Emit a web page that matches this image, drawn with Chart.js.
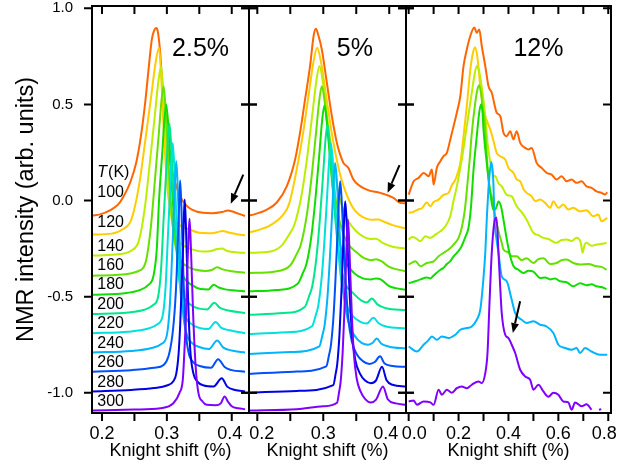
<!DOCTYPE html>
<html>
<head>
<meta charset="utf-8">
<script src="https://cdn.jsdelivr.net/npm/chart.js@4.4.0/dist/chart.umd.min.js"></script>
<style>
  body { margin: 0; background: #fff; }
  #wrap { position: relative; width: 641px; height: 468px; }
  #wrap canvas { position: absolute; left: 0; top: 0; }
</style>
</head>
<body>
<div id="wrap">
  <canvas id="c25" width="641" height="468"></canvas>
  <canvas id="c5" width="641" height="468"></canvas>
  <canvas id="c12" width="641" height="468"></canvas>
</div>
<script>
// ---- data: [Knight shift (%), offset NMR intensity] ----
const temps = [100, 120, 140, 160, 180, 200, 220, 240, 260, 280, 300];
const temps12 = [100, 120, 140, 160, 180, 240, 300];
const tempLabelY = [0.042, -0.117, -0.238, -0.339, -0.439, -0.542, -0.642, -0.745, -0.845, -0.946, -1.045];

const yTicks = [-1.0, -0.5, 0.0, 0.5, 1.0];
const x25Ticks = [0.2, 0.25, 0.3, 0.35, 0.4];
const x5Ticks = [0.2, 0.25, 0.3, 0.35, 0.4];
const x12Ticks = [0.0, 0.1, 0.2, 0.3, 0.4, 0.5, 0.6, 0.7, 0.8];
const x25Labels = [0.2, 0.3, 0.4];
const x5Labels = [0.2, 0.3, 0.4];
const x12Labels = [0.0, 0.2, 0.4, 0.6, 0.8];

// 2.5 %
const k25_100 = [[0.185,-0.078],[0.197,-0.072],[0.213,-0.05],[0.225,-0.02],[0.233,0.02],[0.2435,0.094],[0.2528,0.198],[0.26,0.335],[0.2666,0.51],[0.2717,0.68],[0.2769,0.84],[0.2805,0.885],[0.2835,0.897],[0.286,0.88],[0.2897,0.77],[0.2932,0.595],[0.2974,0.42],[0.3025,0.25],[0.3102,0.127],[0.3205,0.022],[0.33,-0.025],[0.3385,-0.047],[0.3558,-0.064],[0.37,-0.066],[0.385,-0.06],[0.394,-0.052],[0.40,-0.056],[0.41,-0.068],[0.4205,-0.08]];
const k25_120 = [[0.185,-0.177],[0.215,-0.172],[0.2324,-0.148],[0.2452,-0.099],[0.257,0.076],[0.2666,0.309],[0.2762,0.552],[0.2826,0.717],[0.288,0.795],[0.2912,0.649],[0.296,0.309],[0.3016,0.037],[0.3088,-0.08],[0.32,-0.128],[0.335,-0.15],[0.35,-0.168],[0.365,-0.17],[0.377,-0.165],[0.386,-0.158],[0.395,-0.166],[0.41,-0.176],[0.4205,-0.18]];
const k25_140 = [[0.185,-0.286],[0.22,-0.281],[0.2468,-0.257],[0.257,-0.207],[0.2663,-0.031],[0.274,0.205],[0.2817,0.45],[0.2868,0.617],[0.291,0.696],[0.2946,0.549],[0.30,0.205],[0.3063,-0.07],[0.3144,-0.188],[0.327,-0.237],[0.34,-0.255],[0.355,-0.265],[0.368,-0.262],[0.378,-0.252],[0.385,-0.25],[0.393,-0.262],[0.41,-0.27],[0.4205,-0.272]];
const k25_160 = [[0.185,-0.391],[0.22,-0.387],[0.2599,-0.361],[0.268,-0.312],[0.2754,-0.135],[0.2815,0.102],[0.2876,0.349],[0.2916,0.516],[0.295,0.595],[0.2986,0.447],[0.304,0.102],[0.3103,-0.174],[0.3184,-0.292],[0.331,-0.342],[0.345,-0.36],[0.36,-0.366],[0.37,-0.36],[0.377,-0.347],[0.386,-0.358],[0.40,-0.368],[0.4205,-0.375]];
const k25_180 = [[0.185,-0.49],[0.235,-0.482],[0.258,-0.466],[0.271,-0.44],[0.2795,-0.39],[0.2845,-0.25],[0.288,0.005],[0.293,0.253],[0.2962,0.421],[0.299,0.5],[0.303,0.352],[0.309,0.005],[0.316,-0.272],[0.325,-0.391],[0.339,-0.44],[0.352,-0.46],[0.364,-0.462],[0.372,-0.438],[0.38,-0.452],[0.39,-0.462],[0.405,-0.468],[0.4205,-0.472]];
const k25_200 = [[0.185,-0.59],[0.24,-0.582],[0.265,-0.568],[0.2785,-0.545],[0.2865,-0.5],[0.291,-0.36],[0.295,-0.095],[0.299,0.153],[0.3018,0.321],[0.304,0.40],[0.3072,0.252],[0.312,-0.095],[0.3176,-0.372],[0.3248,-0.491],[0.336,-0.54],[0.35,-0.562],[0.362,-0.566],[0.373,-0.532],[0.382,-0.558],[0.395,-0.572],[0.4205,-0.585]];
const k25_220 = [[0.185,-0.69],[0.24,-0.682],[0.27,-0.667],[0.2855,-0.643],[0.2935,-0.6],[0.298,-0.45],[0.3015,-0.195],[0.3049,0.053],[0.3071,0.221],[0.309,0.30],[0.3118,0.152],[0.316,-0.195],[0.3209,-0.472],[0.3272,-0.591],[0.337,-0.64],[0.35,-0.662],[0.364,-0.668],[0.375,-0.632],[0.384,-0.662],[0.397,-0.675],[0.4205,-0.69]];
const k25_240 = [[0.185,-0.79],[0.245,-0.782],[0.275,-0.768],[0.292,-0.745],[0.30,-0.70],[0.3045,-0.55],[0.308,-0.292],[0.3109,-0.044],[0.3129,0.125],[0.3145,0.205],[0.3169,0.056],[0.3205,-0.292],[0.3247,-0.571],[0.3301,-0.69],[0.3385,-0.74],[0.35,-0.762],[0.365,-0.772],[0.3775,-0.728],[0.387,-0.765],[0.40,-0.78],[0.4205,-0.79]];
const k25_260 = [[0.185,-0.89],[0.245,-0.882],[0.28,-0.87],[0.295,-0.855],[0.3025,-0.81],[0.3085,-0.70],[0.3125,-0.55],[0.315,-0.393],[0.317,-0.2],[0.3191,0.0],[0.3205,0.104],[0.3225,-0.045],[0.3255,-0.393],[0.329,-0.671],[0.3335,-0.79],[0.3405,-0.84],[0.352,-0.862],[0.368,-0.87],[0.379,-0.825],[0.389,-0.866],[0.40,-0.882],[0.4205,-0.89]];
const k25_280 = [[0.185,-0.993],[0.245,-0.985],[0.28,-0.975],[0.30,-0.962],[0.31,-0.94],[0.3145,-0.90],[0.318,-0.80],[0.3205,-0.65],[0.3227,-0.45],[0.3249,-0.245],[0.3263,-0.077],[0.3275,0.005],[0.3295,-0.145],[0.3325,-0.494],[0.336,-0.774],[0.3405,-0.893],[0.3475,-0.943],[0.357,-0.962],[0.372,-0.967],[0.3846,-0.924],[0.393,-0.968],[0.405,-0.985],[0.4205,-0.993]];
const k25_300 = [[0.185,-1.092],[0.25,-1.087],[0.29,-1.08],[0.31,-1.054],[0.3195,-1.0],[0.3246,-0.93],[0.3275,-0.75],[0.3295,-0.593],[0.3316,-0.343],[0.3336,-0.174],[0.335,-0.094],[0.337,-0.24],[0.3405,-0.593],[0.3445,-0.87],[0.3486,-1.0],[0.355,-1.045],[0.3615,-1.0625],[0.375,-1.065],[0.383,-1.055],[0.389,-1.019],[0.394,-1.045],[0.40,-1.07],[0.41,-1.08],[0.4205,-1.085]];

// 5 %
const k5_100 = [[0.1874,-0.078],[0.194,-0.073],[0.2143,-0.047],[0.2295,-0.01],[0.2446,0.074],[0.2573,0.214],[0.2648,0.353],[0.2724,0.526],[0.28,0.70],[0.2855,0.86],[0.2887,0.894],[0.2925,0.86],[0.2978,0.786],[0.3054,0.613],[0.313,0.44],[0.3206,0.30],[0.326,0.235],[0.3306,0.196],[0.338,0.17],[0.3458,0.109],[0.366,0.057],[0.3863,0.04],[0.4065,0.014],[0.4167,-0.012],[0.4254,-0.015]];
const k5_120 = [[0.1874,-0.165],[0.20,-0.155],[0.22,-0.128],[0.239,-0.075],[0.248,-0.02],[0.2574,0.121],[0.2677,0.314],[0.278,0.554],[0.285,0.718],[0.2907,0.795],[0.2967,0.718],[0.3039,0.554],[0.3147,0.314],[0.3267,0.121],[0.3435,-0.03],[0.355,-0.075],[0.366,-0.095],[0.375,-0.10],[0.383,-0.098],[0.392,-0.11],[0.405,-0.128],[0.4254,-0.145]];
const k5_140 = [[0.1874,-0.272],[0.22,-0.265],[0.2372,-0.233],[0.2486,-0.175],[0.2562,-0.126],[0.2666,0.02],[0.2752,0.214],[0.2837,0.457],[0.2895,0.622],[0.2942,0.70],[0.2992,0.622],[0.3052,0.457],[0.3142,0.214],[0.3242,0.02],[0.3382,-0.107],[0.35,-0.16],[0.362,-0.19],[0.372,-0.20],[0.38,-0.198],[0.39,-0.22],[0.405,-0.24],[0.4254,-0.25]];
const k5_160 = [[0.1874,-0.377],[0.225,-0.37],[0.2498,-0.338],[0.2594,-0.28],[0.2658,-0.231],[0.2746,-0.085],[0.2818,0.109],[0.289,0.352],[0.2938,0.517],[0.2978,0.595],[0.302,0.517],[0.3072,0.352],[0.3148,0.109],[0.3233,-0.085],[0.3352,-0.212],[0.35,-0.268],[0.362,-0.30],[0.372,-0.31],[0.38,-0.305],[0.388,-0.315],[0.40,-0.345],[0.4254,-0.368]];
const k5_180 = [[0.1874,-0.472],[0.23,-0.465],[0.2612,-0.433],[0.2693,-0.375],[0.2747,-0.327],[0.2821,-0.182],[0.2882,0.012],[0.2943,0.253],[0.2983,0.418],[0.3017,0.495],[0.3052,0.418],[0.3094,0.253],[0.3157,0.012],[0.3227,-0.182],[0.3325,-0.308],[0.346,-0.375],[0.36,-0.405],[0.372,-0.41],[0.38,-0.405],[0.387,-0.41],[0.40,-0.445],[0.4254,-0.464]];
const k5_200 = [[0.1874,-0.594],[0.24,-0.585],[0.2718,-0.554],[0.2787,-0.495],[0.2833,-0.446],[0.2896,-0.297],[0.2948,-0.099],[0.30,0.149],[0.3034,0.317],[0.3063,0.396],[0.3093,0.317],[0.3129,0.149],[0.3183,-0.099],[0.3243,-0.297],[0.3327,-0.426],[0.345,-0.48],[0.358,-0.52],[0.366,-0.53],[0.3737,-0.51],[0.382,-0.54],[0.395,-0.56],[0.4254,-0.57]];
const k5_220 = [[0.1874,-0.694],[0.245,-0.685],[0.283,-0.654],[0.2887,-0.595],[0.2925,-0.545],[0.2977,-0.396],[0.302,-0.197],[0.3063,0.052],[0.3091,0.22],[0.3115,0.30],[0.314,0.22],[0.317,0.052],[0.3215,-0.197],[0.3265,-0.396],[0.3335,-0.525],[0.3435,-0.595],[0.355,-0.628],[0.366,-0.64],[0.376,-0.61],[0.384,-0.638],[0.395,-0.655],[0.4254,-0.665]];
const k5_240 = [[0.1874,-0.798],[0.25,-0.788],[0.294,-0.758],[0.2988,-0.699],[0.302,-0.649],[0.3064,-0.50],[0.31,-0.301],[0.3136,-0.053],[0.316,0.116],[0.318,0.196],[0.3203,0.116],[0.323,-0.053],[0.327,-0.301],[0.3315,-0.50],[0.3378,-0.63],[0.3468,-0.70],[0.358,-0.74],[0.368,-0.75],[0.375,-0.74],[0.381,-0.717],[0.388,-0.745],[0.40,-0.76],[0.4254,-0.77]];
const k5_260 = [[0.1874,-0.902],[0.255,-0.89],[0.3046,-0.862],[0.3088,-0.802],[0.3116,-0.752],[0.3155,-0.602],[0.3186,-0.402],[0.3218,-0.152],[0.3238,0.018],[0.3256,0.10],[0.3276,0.018],[0.33,-0.152],[0.3336,-0.402],[0.3376,-0.602],[0.3432,-0.732],[0.3512,-0.802],[0.36,-0.835],[0.37,-0.85],[0.378,-0.84],[0.386,-0.81],[0.393,-0.848],[0.405,-0.86],[0.4254,-0.865]];
const k5_280 = [[0.1874,-1.0],[0.26,-0.99],[0.3152,-0.96],[0.3188,-0.90],[0.3212,-0.85],[0.3245,-0.70],[0.3272,-0.502],[0.33,-0.253],[0.3317,-0.084],[0.3332,-0.004],[0.335,-0.084],[0.3371,-0.253],[0.3402,-0.502],[0.3437,-0.70],[0.3486,-0.83],[0.3556,-0.90],[0.363,-0.935],[0.372,-0.95],[0.38,-0.935],[0.389,-0.865],[0.396,-0.935],[0.405,-0.958],[0.4254,-0.967]];
const k5_300 = [[0.1874,-1.092],[0.26,-1.085],[0.30,-1.07],[0.3208,-1.052],[0.3241,-0.993],[0.3263,-0.943],[0.3293,-0.794],[0.3318,-0.596],[0.3343,-0.347],[0.3359,-0.178],[0.3373,-0.099],[0.3388,-0.178],[0.3406,-0.347],[0.3433,-0.596],[0.3463,-0.794],[0.3505,-0.923],[0.3565,-0.993],[0.363,-1.03],[0.372,-1.05],[0.38,-1.035],[0.3905,-0.967],[0.398,-1.035],[0.41,-1.055],[0.4254,-1.0625]];

// 12 %
const k12_100 = [[0.0,0.031],[0.02,0.10],[0.04,0.118],[0.06,0.144],[0.08,0.127],[0.093,0.161],[0.10,0.083],[0.113,0.17],[0.127,0.205],[0.14,0.231],[0.153,0.248],[0.167,0.318],[0.18,0.387],[0.193,0.457],[0.207,0.543],[0.22,0.70],[0.233,0.786],[0.247,0.856],[0.263,0.90],[0.273,0.873],[0.283,0.89],[0.293,0.804],[0.307,0.70],[0.32,0.595],[0.333,0.561],[0.353,0.457],[0.367,0.44],[0.38,0.353],[0.393,0.335],[0.407,0.361],[0.42,0.318],[0.433,0.361],[0.447,0.30],[0.467,0.274],[0.48,0.266],[0.493,0.274],[0.513,0.196],[0.533,0.17],[0.553,0.144],[0.573,0.135],[0.593,0.109],[0.613,0.127],[0.633,0.10],[0.653,0.109],[0.673,0.092],[0.693,0.10],[0.713,0.074],[0.733,0.066],[0.753,0.048],[0.773,0.04],[0.787,0.031],[0.796,0.043]];
const k12_120 = [[0.0,-0.064],[0.02,-0.058],[0.04,-0.045],[0.053,-0.04],[0.073,-0.01],[0.087,-0.03],[0.10,-0.008],[0.12,0.005],[0.14,0.03],[0.16,0.04],[0.173,0.08],[0.187,0.109],[0.207,0.196],[0.22,0.335],[0.233,0.49],[0.247,0.68],[0.258,0.77],[0.266,0.798],[0.275,0.75],[0.287,0.595],[0.297,0.50],[0.307,0.44],[0.318,0.40],[0.327,0.37],[0.34,0.31],[0.353,0.248],[0.367,0.23],[0.387,0.214],[0.40,0.17],[0.42,0.144],[0.433,0.11],[0.447,0.10],[0.46,0.06],[0.473,0.04],[0.493,0.022],[0.507,-0.004],[0.527,0.005],[0.547,-0.012],[0.567,-0.038],[0.58,-0.004],[0.60,-0.038],[0.62,-0.021],[0.64,-0.047],[0.66,-0.038],[0.687,-0.056],[0.713,-0.05],[0.74,-0.082],[0.76,-0.073],[0.773,-0.108],[0.796,-0.09]];
const k12_140 = [[0.0,-0.203],[0.013,-0.19],[0.027,-0.194],[0.047,-0.212],[0.067,-0.186],[0.087,-0.194],[0.107,-0.177],[0.127,-0.16],[0.147,-0.134],[0.167,-0.08],[0.18,0.0],[0.193,0.074],[0.213,0.214],[0.233,0.387],[0.251,0.543],[0.263,0.647],[0.273,0.70],[0.283,0.67],[0.295,0.57],[0.307,0.44],[0.316,0.30],[0.327,0.20],[0.34,0.13],[0.347,0.127],[0.36,0.09],[0.373,0.074],[0.393,0.03],[0.413,0.022],[0.433,-0.03],[0.453,-0.06],[0.473,-0.10],[0.50,-0.168],[0.52,-0.18],[0.54,-0.194],[0.56,-0.20],[0.593,-0.22],[0.613,-0.205],[0.633,-0.203],[0.653,-0.21],[0.673,-0.194],[0.69,-0.22],[0.697,-0.272],[0.705,-0.23],[0.713,-0.22],[0.733,-0.235],[0.753,-0.229],[0.773,-0.225],[0.793,-0.22]];
const k12_160 = [[0.0,-0.333],[0.027,-0.316],[0.047,-0.342],[0.073,-0.325],[0.10,-0.316],[0.12,-0.29],[0.14,-0.272],[0.16,-0.255],[0.18,-0.229],[0.20,-0.194],[0.213,-0.14],[0.225,-0.05],[0.233,0.05],[0.245,0.22],[0.253,0.35],[0.267,0.51],[0.276,0.58],[0.283,0.60],[0.29,0.56],[0.297,0.48],[0.304,0.42],[0.31,0.30],[0.317,0.16],[0.325,0.06],[0.333,0.02],[0.347,-0.08],[0.36,-0.16],[0.373,-0.22],[0.38,-0.255],[0.40,-0.27],[0.413,-0.29],[0.433,-0.29],[0.453,-0.31],[0.473,-0.30],[0.50,-0.325],[0.52,-0.305],[0.54,-0.30],[0.567,-0.33],[0.593,-0.325],[0.613,-0.31],[0.633,-0.307],[0.66,-0.325],[0.687,-0.333],[0.72,-0.33],[0.753,-0.342],[0.773,-0.345],[0.793,-0.36]];
const k12_180 = [[0.0,-0.43],[0.027,-0.42],[0.047,-0.41],[0.073,-0.40],[0.087,-0.405],[0.10,-0.39],[0.127,-0.36],[0.14,-0.35],[0.153,-0.33],[0.167,-0.315],[0.18,-0.29],[0.207,-0.25],[0.227,-0.19],[0.24,-0.14],[0.25,-0.03],[0.26,0.16],[0.273,0.335],[0.283,0.46],[0.29,0.50],[0.296,0.46],[0.30,0.37],[0.313,0.196],[0.327,0.04],[0.34,-0.05],[0.35,-0.04],[0.36,-0.005],[0.37,-0.03],[0.38,-0.10],[0.393,-0.20],[0.407,-0.29],[0.42,-0.34],[0.44,-0.36],[0.46,-0.377],[0.48,-0.365],[0.50,-0.37],[0.527,-0.403],[0.547,-0.40],[0.567,-0.41],[0.587,-0.405],[0.607,-0.42],[0.633,-0.425],[0.66,-0.446],[0.687,-0.43],[0.713,-0.44],[0.733,-0.435],[0.753,-0.446],[0.773,-0.45],[0.793,-0.46]];
const k12_240 = [[0.0,-0.759],[0.033,-0.785],[0.06,-0.75],[0.077,-0.73],[0.093,-0.707],[0.113,-0.724],[0.133,-0.707],[0.16,-0.715],[0.187,-0.698],[0.207,-0.672],[0.233,-0.663],[0.253,-0.655],[0.273,-0.62],[0.287,-0.568],[0.297,-0.446],[0.307,-0.272],[0.313,-0.099],[0.322,0.10],[0.331,0.20],[0.337,0.15],[0.34,0.074],[0.344,-0.099],[0.352,-0.20],[0.36,-0.272],[0.373,-0.394],[0.393,-0.42],[0.413,-0.516],[0.427,-0.585],[0.453,-0.62],[0.473,-0.637],[0.50,-0.628],[0.527,-0.646],[0.553,-0.655],[0.58,-0.689],[0.60,-0.75],[0.627,-0.767],[0.653,-0.776],[0.673,-0.767],[0.687,-0.793],[0.707,-0.767],[0.733,-0.785],[0.767,-0.802],[0.796,-0.802]];
const k12_300 = [[0.0,-1.045],[0.02,-1.04],[0.033,-1.0625],[0.06,-1.045],[0.087,-1.05],[0.10,-1.0625],[0.12,-0.984],[0.133,-1.01],[0.153,-0.984],[0.173,-1.0],[0.193,-0.976],[0.213,-0.967],[0.233,-0.976],[0.253,-0.958],[0.28,-0.941],[0.293,-0.95],[0.307,-0.898],[0.316,-0.793],[0.324,-0.533],[0.333,-0.272],[0.343,-0.116],[0.352,-0.09],[0.36,-0.272],[0.367,-0.45],[0.373,-0.585],[0.387,-0.698],[0.40,-0.715],[0.413,-0.75],[0.427,-0.793],[0.447,-0.88],[0.467,-0.915],[0.487,-0.932],[0.50,-0.984],[0.52,-0.958],[0.54,-0.993],[0.56,-1.02],[0.58,-1.0],[0.60,-1.01],[0.62,-1.045],[0.64,-1.05],[0.653,-1.088],[0.667,-1.05],[0.693,-1.07],[0.713,-1.06],[0.733,-1.088],[0.75,null],[0.763,-1.088],[0.772,-1.085]];

const panel25 = [k25_100, k25_120, k25_140, k25_160, k25_180, k25_200, k25_220, k25_240, k25_260, k25_280, k25_300];
const panel5 = [k5_100, k5_120, k5_140, k5_160, k5_180, k5_200, k5_220, k5_240, k5_260, k5_280, k5_300];
const panel12 = [k12_100, k12_120, k12_140, k12_160, k12_180, k12_240, k12_300];

// annotation arrows: [x tail, y tail, x tip, y tip] in data units
const arrow25 = [0.4178, 0.135, 0.3985, -0.016];
const arrow5 = [0.4156, 0.184, 0.3975, 0.04];
const arrow12 = [0.4467, -0.524, 0.4175, -0.689];

// ---- styling ----
const FONT = '"Liberation Sans", Arial, Helvetica, sans-serif';
Chart.defaults.font.family = FONT;
Chart.defaults.color = '#000';

const tempColors = {
  100: '#ff6600', 120: '#ffcc00', 140: '#bbee00', 160: '#66e000', 180: '#11dd00',
  200: '#00e68c', 220: '#00e0dc', 240: '#00b4ff', 260: '#0050ff', 280: '#0000e6', 300: '#8000ff'
};
const Y_MIN = -1.105, Y_MAX = 1.012;

function makeSets(curves, ts) {
  return curves.map((c, i) => ({
    data: c.map(p => ({ x: p[0], y: p[1] })),
    borderColor: tempColors[ts[i]],
    borderWidth: 2,
    pointRadius: 0,
    cubicInterpolationMode: 'monotone',
    spanGaps: false,
    order: -i
  }));
}

function drawArrow(ctx, x, y, a) {
  const x1 = x.getPixelForValue(a[0]), y1 = y.getPixelForValue(a[1]);
  const x2 = x.getPixelForValue(a[2]), y2 = y.getPixelForValue(a[3]);
  const ang = Math.atan2(y2 - y1, x2 - x1);
  const hl = 10, hw = 4;
  const bx = x2 - hl * Math.cos(ang), by = y2 - hl * Math.sin(ang);
  ctx.strokeStyle = '#000';
  ctx.fillStyle = '#000';
  ctx.lineWidth = 2;
  ctx.beginPath();
  ctx.moveTo(x1, y1);
  ctx.lineTo(bx, by);
  ctx.stroke();
  ctx.beginPath();
  ctx.moveTo(x2, y2);
  ctx.lineTo(bx + hw * Math.sin(ang), by - hw * Math.cos(ang));
  ctx.lineTo(bx - hw * Math.sin(ang), by + hw * Math.cos(ang));
  ctx.closePath();
  ctx.fill();
}

// keep the edge tick labels of neighbouring panels apart, like the original
const nudgePlugin = {
  id: 'nudge',
  beforeDraw(chart, args, o) {
    const s = chart.scales.x;
    s.getLabelItems(chart.chartArea).forEach(it => {
      const d = o.shift[it.label];
      if (d) it.options.translation[0] += d;
    });
  }
};

const framePlugin = {
  id: 'frame',
  afterDatasetsDraw(chart, args, o) {
    const { ctx, chartArea: a, scales: { x, y } } = chart;
    const L = 8;
    ctx.save();
    ctx.strokeStyle = '#000';
    ctx.lineWidth = 2;
    ctx.strokeRect(a.left, a.top, a.right - a.left, a.bottom - a.top);
    ctx.beginPath();
    o.xTicks.forEach(v => {
      const px = x.getPixelForValue(v);
      ctx.moveTo(px, a.top); ctx.lineTo(px, a.top + L);
      ctx.moveTo(px, a.bottom); ctx.lineTo(px, a.bottom + L);
    });
    yTicks.forEach(v => {
      const py = y.getPixelForValue(v);
      ctx.moveTo(a.left - L, py); ctx.lineTo(o.leftIn ? a.left + L : a.left, py);
      ctx.moveTo(o.rightOut ? a.right + L : a.right, py); ctx.lineTo(a.right - L, py);
    });
    ctx.stroke();
    ctx.restore();
  }
};

const notesPlugin = {
  id: 'notes',
  afterDatasetsDraw(chart, args, o) {
    const { ctx, scales: { x, y } } = chart;
    ctx.save();
    ctx.fillStyle = '#000';
    ctx.textBaseline = 'middle';
    ctx.textAlign = 'left';
    ctx.font = '25px ' + FONT;
    ctx.fillText(o.title, x.getPixelForValue(o.titleX), y.getPixelForValue(0.79));
    if (o.temps) {
      const lx = x.getPixelForValue(0.1928);
      ctx.font = 'italic 16px ' + FONT;
      const ty = y.getPixelForValue(0.147);
      ctx.fillText('T', lx, ty);
      const tw = ctx.measureText('T').width;
      ctx.font = '16px ' + FONT;
      ctx.fillText('(K)', lx + tw + 1, ty);
      temps.forEach((t, i) => ctx.fillText(String(t), lx, y.getPixelForValue(tempLabelY[i])));
    }
    drawArrow(ctx, x, y, o.arrow);
    ctx.restore();
  }
};

function makeChart(id, cfg) {
  const near = (v, list) => list.some(l => Math.abs(l - v) < 1e-6);
  return new Chart(document.getElementById(id), {
    type: 'line',
    data: { datasets: cfg.sets },
    plugins: [nudgePlugin, framePlugin, notesPlugin],
    options: {
      responsive: false,
      animation: false,
      devicePixelRatio: 1,
      events: [],
      layout: { padding: { left: cfg.padL, right: cfg.padR, top: 6, bottom: 0 } },
      plugins: {
        legend: { display: false },
        tooltip: { enabled: false },
        nudge: { shift: cfg.labelShift },
        frame: { xTicks: cfg.xTicks, leftIn: cfg.leftIn, rightOut: cfg.rightOut },
        notes: { title: cfg.title, titleX: cfg.titleX, temps: cfg.showTemps, arrow: cfg.arrow }
      },
      scales: {
        x: {
          type: 'linear',
          min: cfg.xMin, max: cfg.xMax,
          afterBuildTicks: s => { s.ticks = cfg.xTicks.map(v => ({ value: v })); },
          afterFit: s => { s.height = 55; s.paddingLeft = 0; s.paddingRight = 0; },
          grid: { display: false, drawTicks: false },
          border: { display: false },
          ticks: {
            padding: 10, autoSkip: false, maxRotation: 0,
            font: { size: 18 },
            callback: v => near(v, cfg.xLabels) ? v.toFixed(1) : ''
          },
          title: { display: true, text: 'Knight shift (%)', font: { size: 18 }, padding: { top: 0, bottom: 6 } }
        },
        y: {
          type: 'linear',
          display: cfg.showY,
          min: Y_MIN, max: Y_MAX,
          afterBuildTicks: s => { s.ticks = yTicks.map(v => ({ value: v })); },
          afterFit: s => { s.width = cfg.showY ? 92 : 0; s.paddingTop = 0; s.paddingBottom = 0; },
          grid: { display: false, drawTicks: false },
          border: { display: false },
          ticks: { padding: 19, font: { size: 15 }, callback: v => v.toFixed(1) },
          title: { display: true, text: 'NMR intensity (arb. units)', font: { size: 23.5 }, padding: { top: 12.7, bottom: 0 } }
        }
      }
    }
  });
}

makeChart('c25', {
  sets: makeSets(panel25, temps), padL: 0, padR: 392, showY: true,
  xMin: 0.1846, xMax: 0.4266, xTicks: x25Ticks, xLabels: x25Labels, labelShift: { '0.4': -2 },
  leftIn: false, rightOut: true, title: '2.5%', titleX: 0.308, showTemps: true, arrow: arrow25
});
makeChart('c5', {
  sets: makeSets(panel5, temps), padL: 249, padR: 235, showY: false,
  xMin: 0.1874, xMax: 0.4254, xTicks: x5Ticks, xLabels: x5Labels, labelShift: { '0.2': 4.5, '0.4': -3.5 },
  leftIn: true, rightOut: true, title: '5%', titleX: 0.3206, showTemps: false, arrow: arrow5
});
makeChart('c12', {
  sets: makeSets(panel12, temps12), padL: 406, padR: 30, showY: false,
  xMin: -0.0107, xMax: 0.811, xTicks: x12Ticks, xLabels: x12Labels, labelShift: { '0.0': 5.5, '0.8': -4 },
  leftIn: true, rightOut: false, title: '12%', titleX: 0.42, showTemps: false, arrow: arrow12
});
</script>
</body>
</html>
